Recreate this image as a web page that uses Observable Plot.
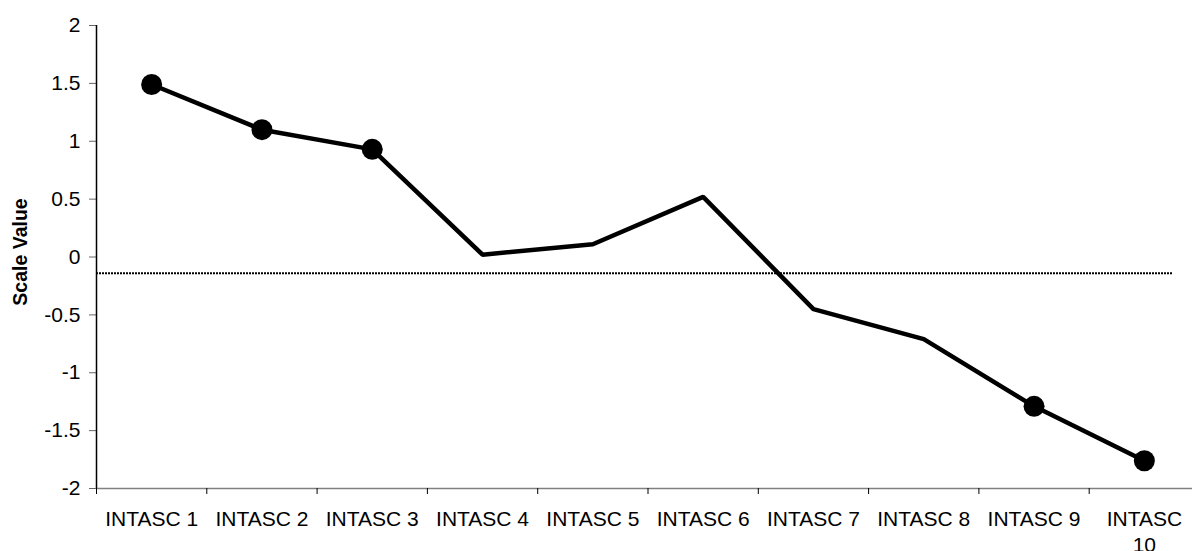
<!DOCTYPE html>
<html><head><meta charset="utf-8">
<script src="https://cdn.jsdelivr.net/npm/d3@7"></script>
<script src="https://cdn.jsdelivr.net/npm/@observablehq/plot@0.6"></script>
<style>body{margin:0;background:#fff;} svg{display:block}</style>
</head><body><div id="chart"></div>
<script>
const categories = ["INTASC 1","INTASC 2","INTASC 3","INTASC 4","INTASC 5","INTASC 6","INTASC 7","INTASC 8","INTASC 9","INTASC 10"];
const tickLabels = ["INTASC 1","INTASC 2","INTASC 3","INTASC 4","INTASC 5","INTASC 6","INTASC 7","INTASC 8","INTASC 9","INTASC\n10"];
const scaleValues = [1.49, 1.10, 0.93, 0.02, 0.11, 0.52, -0.45, -0.71, -1.29, -1.76];
const showMarker = [true, true, true, false, false, false, false, false, true, true];
const referenceValue = -0.14;
const yTicks = [-2, -1.5, -1, -0.5, 0, 0.5, 1, 1.5, 2];
const yLabel = "Scale Value";

const data = categories.map((c, i) => ({category: c, pos: i + 0.5, value: scaleValues[i], marker: showMarker[i], label: tickLabels[i]}));
const boundaries = d3.range(0, categories.length + 1);

const chart = Plot.plot({
  width: 1192, height: 551,
  marginLeft: 96, marginRight: 20, marginTop: 25, marginBottom: 63,
  style: {fontFamily: "'Liberation Sans', Arial, sans-serif", fontSize: "21px", background: "#fff", color: "#000"},
  x: {domain: [0, categories.length], range: [96, 1199]},
  y: {domain: [-2, 2]},
  marks: [
    Plot.ruleY([referenceValue], {stroke: "#000", strokeWidth: 2, strokeDasharray: "2,1"}),
    Plot.ruleY([-2], {x1: () => 0, x2: () => categories.length, stroke: "#808080", strokeWidth: 1.5}),
    Plot.axisY({ticks: yTicks, tickSize: 7, tickPadding: 9, fontSize: 21, tickFormat: d => String(d), stroke: "#666", fill: "#000", label: null}),
    Plot.axisX({ticks: boundaries, tickSize: 6, tickFormat: () => "", stroke: "#000", label: null}),
    Plot.ruleX([0], {y1: () => -2, y2: () => 2, stroke: "#000", strokeWidth: 1.5}),
    Plot.text(data, {x: "pos", y: () => -2, text: "label", dy: 19, lineAnchor: "top", lineHeight: 1.25, fontSize: 21, fill: "#000"}),
    Plot.text([yLabel], {frameAnchor: "left", dx: -76, dy: -5, rotate: -90, fontWeight: "bold", fontSize: 19.5, textAnchor: "middle", fill: "#000"}),
    Plot.line(data, {x: "pos", y: "value", stroke: "#000", strokeWidth: 4.5, strokeLinejoin: "miter"}),
    Plot.dot(data.filter(d => d.marker), {x: "pos", y: "value", r: 10.5, fill: "#000", stroke: "none"})
  ]
});
document.getElementById("chart").appendChild(chart);
</script>
</body></html>
